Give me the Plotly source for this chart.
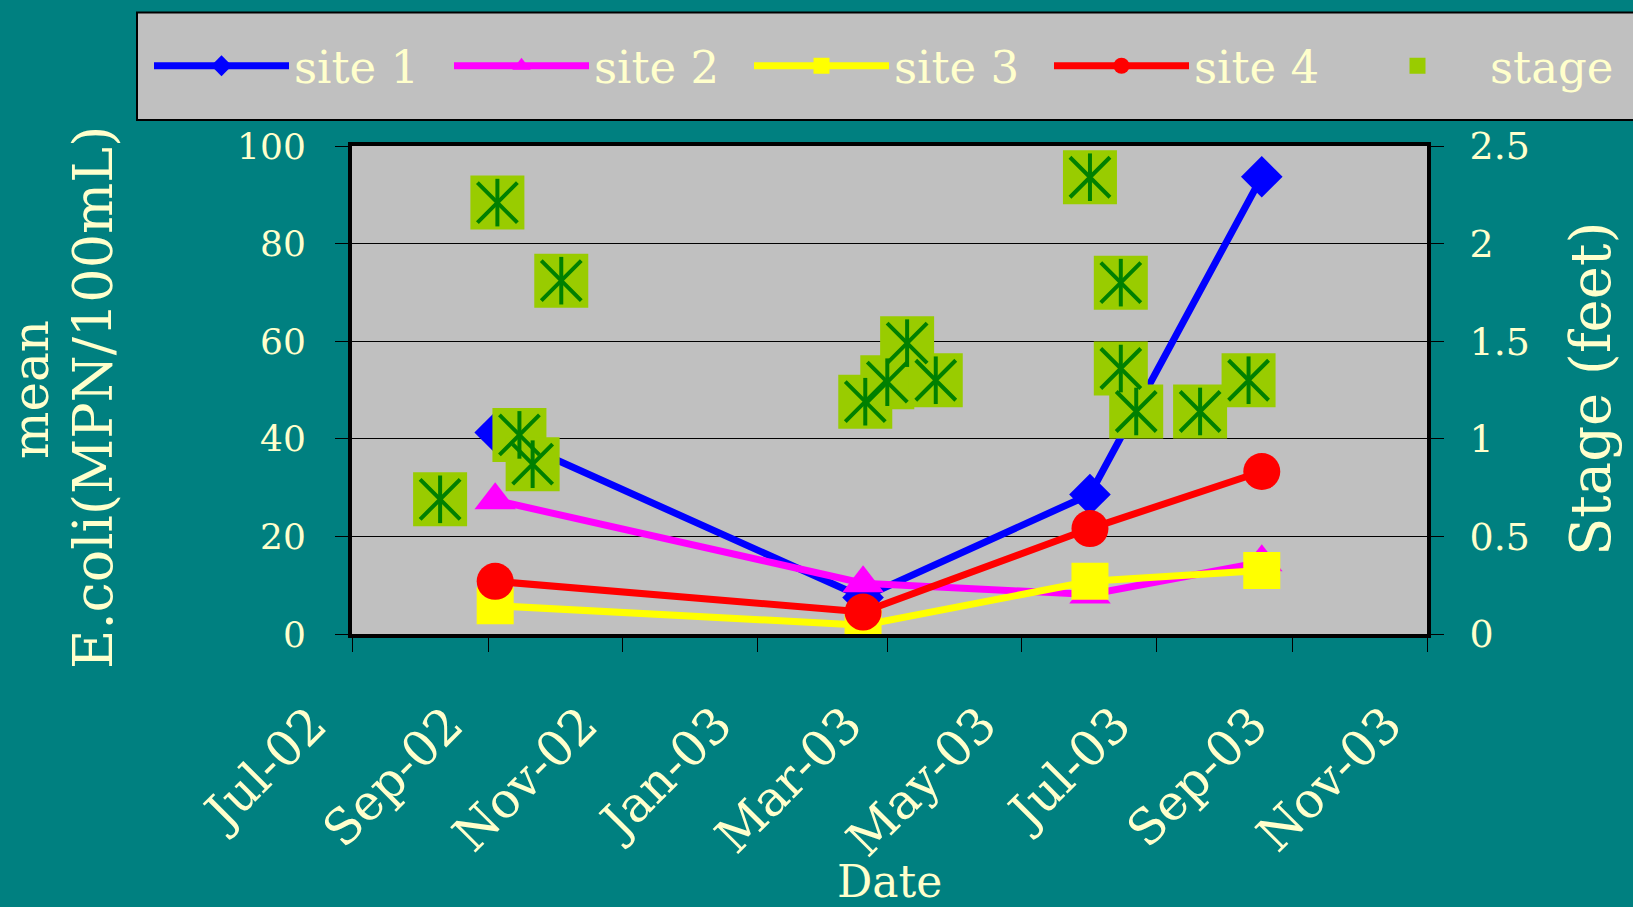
import plotly.graph_objects as go

# ---------------- data ----------------
site_dates = ["2002-09-04", "2003-02-18", "2003-06-01", "2003-08-18"]
site1 = [41.3, 7.5, 28.6, 93.7]
site2 = [27.4, 10.4, 8.1, 14.7]
site3 = [5.8, 1.8, 10.8, 13.0]
site4 = [10.8, 4.5, 21.6, 33.3]
site_names = ["site 1", "site 2", "site 3", "site 4"]

stage_dates = ["2002-08-10", "2002-09-05", "2002-09-15", "2002-09-21", "2002-10-04",
               "2003-02-19", "2003-03-01", "2003-03-10", "2003-03-23",
               "2003-06-01", "2003-06-15", "2003-06-15", "2003-06-22", "2003-07-21",
               "2003-08-12"]
stage_ft = [0.69, 2.21, 1.02, 0.87, 1.81,
            1.19, 1.29, 1.49, 1.30,
            2.34, 1.80, 1.36, 1.14, 1.14,
            1.30]

x_range = ["2002-07-01", "2003-11-01"]

# ---------------- style ----------------
TEAL = "#008080"
SILVER = "#C0C0C0"
CREAM = "#FFFFCC"
FONT = "DejaVu Serif"
colors = ["#0000FF", "#FF00FF", "#FFFF00", "#FF0000"]
symbols = ["diamond", "triangle-up", "square", "circle"]
msizes = [32, 36, 37, 37]

W, H = 1633, 907
L, R, T, B = 352, 206, 146, 273
pw, ph = W - L - R, H - T - B


def px_x(p):
    return (p - L) / pw


def px_y(p):
    return (H - B - p) / ph


fig = go.Figure()

for name, vals, col, sym, ms in zip(site_names, [site1, site2, site3, site4],
                                    colors, symbols, msizes):
    fig.add_trace(go.Scatter(
        x=site_dates, y=vals, name=name, mode="lines+markers",
        line=dict(color=col, width=7),
        marker=dict(symbol=sym, size=ms, color=col, line=dict(width=0)),
        legend="legend",
    ))

# stage markers: yellow-green box + green asterisk (vertical + X)
fig.add_trace(go.Scatter(
    x=stage_dates, y=stage_ft, name="stage", mode="markers", yaxis="y2",
    marker=dict(symbol="square", size=54, color="#99CC00", line=dict(width=0)),
    legend="legend2",
))
fig.add_trace(go.Scatter(
    x=stage_dates, y=stage_ft, name="stage", mode="markers", yaxis="y2",
    marker=dict(symbol="x-thin-open", size=40, color="#008000",
                line=dict(width=4, color="#008000")),
    showlegend=False, hoverinfo="skip",
))
fig.add_trace(go.Scatter(
    x=stage_dates, y=stage_ft, name="stage", mode="markers", yaxis="y2",
    marker=dict(symbol="line-ns-open", size=34, color="#008000",
                line=dict(width=4, color="#008000")),
    showlegend=False, hoverinfo="skip",
))

axis_common = dict(showline=True, linecolor="black", linewidth=4,
                   ticks="outside", tickcolor="black", tickwidth=1,
                   zeroline=False)

fig.update_layout(
    width=W, height=H,
    margin=dict(l=L, r=R, t=T, b=B, autoexpand=False),
    paper_bgcolor=TEAL, plot_bgcolor=SILVER,
    font=dict(family=FONT, color=CREAM, size=36),
    xaxis=dict(type="date", range=x_range, tick0=x_range[0], dtick="M2",
               tickformat="%b-%y", tickangle=-45, ticklen=14,
               tickfont=dict(size=49), showgrid=False, mirror=True,
               ticklabelstandoff=24, ticklabelshift=-40,
               **axis_common),
    yaxis=dict(range=[0, 100], dtick=20, ticklen=13, showgrid=True,
               gridcolor="black", gridwidth=1, mirror=True,
               tickfont=dict(size=36), ticklabelstandoff=22,
               **axis_common),
    yaxis2=dict(range=[0, 2.5], dtick=0.5, overlaying="y", side="right",
                ticklen=13, showgrid=False, tickfont=dict(size=38),
                ticklabelstandoff=18, **axis_common),
    legend=dict(orientation="h", x=px_x(149), xanchor="left",
                y=px_y(66), yanchor="middle", bgcolor="rgba(0,0,0,0)",
                borderwidth=0, font=dict(size=45, color=CREAM),
                itemwidth=135, entrywidth=150, entrywidthmode="pixels",
                itemsizing="trace"),
    legend2=dict(orientation="h", x=px_x(1345), xanchor="left",
                 y=px_y(66), yanchor="middle", bgcolor="rgba(0,0,0,0)",
                 borderwidth=0, font=dict(size=45, color=CREAM),
                 itemwidth=135, itemsizing="trace"),
    shapes=[dict(type="rect", xref="paper", yref="paper",
                 x0=px_x(137), x1=px_x(1645), y0=px_y(120), y1=px_y(12.5),
                 fillcolor=SILVER, line=dict(color="black", width=2),
                 layer="below")],
    annotations=[
        dict(text="mean", xref="paper", yref="paper",
             x=px_x(1), y=px_y(390), xanchor="left", yanchor="middle",
             textangle=-90, showarrow=False, borderpad=0,
             font=dict(size=50, color=CREAM)),
        dict(text="E.coli(MPN/100mL)", xref="paper", yref="paper",
             x=px_x(93), y=px_y(398), xanchor="center", yanchor="middle",
             textangle=-90, showarrow=False, borderpad=0,
             font=dict(size=54, color=CREAM)),
        dict(text="Stage (feet)", xref="paper", yref="paper",
             x=px_x(1590), y=px_y(389), xanchor="center", yanchor="middle",
             textangle=-90, showarrow=False, font=dict(size=56, color=CREAM)),
        dict(text="Date", xref="paper", yref="paper",
             x=px_x(889), y=px_y(881), xanchor="center", yanchor="middle",
             showarrow=False, borderpad=0, font=dict(size=44, color=CREAM)),
    ],
    showlegend=True,
)

fig.write_html("out.html")
